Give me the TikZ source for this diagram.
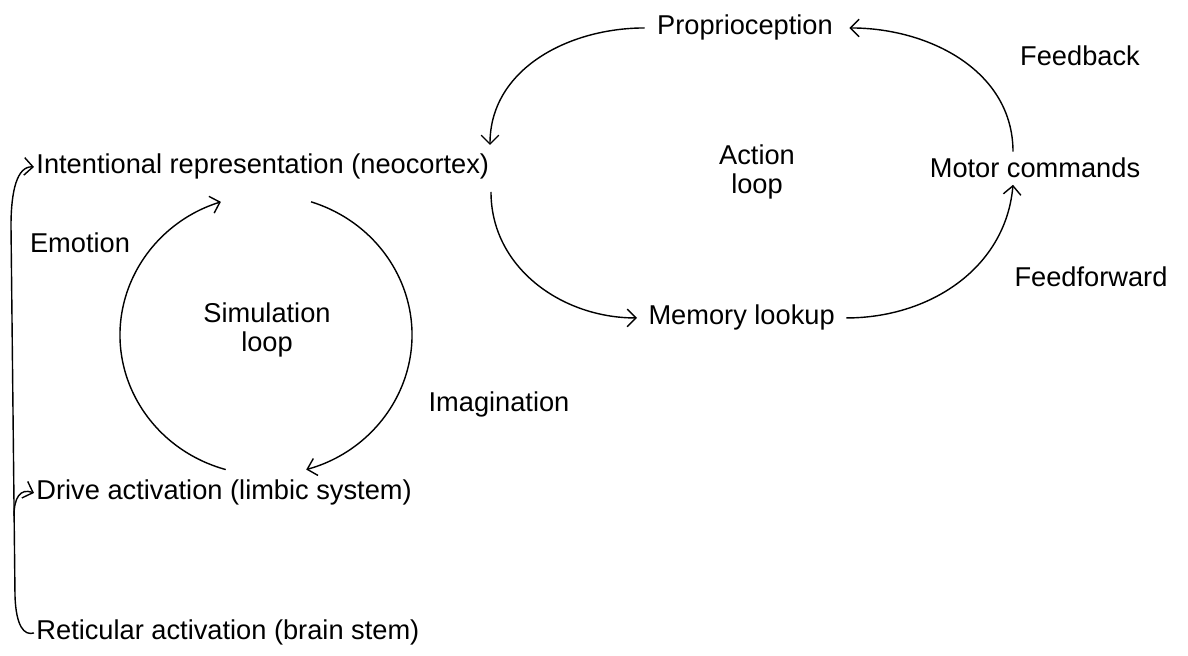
\documentclass[tikz,border=0pt]{standalone}
\usepackage{fontspec}
\setmainfont{Liberation Sans}
\usetikzlibrary{arrows.meta}
\begin{document}
\begin{tikzpicture}[x=0.02cm,y=0.02cm,line width=0.8pt,>={Straight Barb[length=5pt,width=10pt]},
  every node/.style={font=\fontsize{15.5}{16}\selectfont},
  lbl/.style={anchor=base west,inner sep=1pt}]
\useasboundingbox (0,0) rectangle (1188,656);
% left column
\node[lbl] (int) at (34,482) {Intentional representation (neocortex)};
\node[lbl] (drive) at (34,156) {Drive activation (limbic system)};
\node[lbl] (ret) at (34,16) {Reticular activation (brain stem)};
\node[anchor=base] (emo) at (80,403) {Emotion};
\node[anchor=base] (imag) at (499,244) {Imagination};
\node[align=center] (sim) at (267,326) {Simulation\\loop};
% action loop
\node[anchor=base] (prop) at (745,621) {Proprioception};
\node[anchor=base] (fb) at (1080,590) {Feedback};
\node[anchor=base] (motor) at (1035,478) {Motor commands};
\node[anchor=base] (ff) at (1091,369) {Feedforward};
\node[anchor=base west] (mem) at (642,331) {Memory lookup};
\node[align=center] (act) at (757,484) {Action\\loop};
\coordinate (intin) at (490,511);
\coordinate (intout) at (491,464);
\coordinate (simc) at (266,321);
\coordinate (fork) at (14,140);
% arousal
\draw[->](ret.west) .. controls (24,20) and (16,30) .. (15,60) -- (11,430) .. controls (11,465) and (17,490) .. (int.west);
\draw[->](fork) .. controls (14,158) and (20,168) .. (drive.west);
% simulation
\draw[->](simc) ++(254:146 and 140) arc[start angle=254,end angle=108,x radius=146,y radius=140];
\draw[->](simc) ++(72:146 and 140) arc[start angle=72,end angle=-74,x radius=146,y radius=140];
% action
\draw[->](intout) to[out=-90,in=180] ([xshift=-0.1cm]mem.west);
\draw[->]([xshift=0.1cm]mem.east) to[out=0,in=-95] ([xshift=-0.44cm]motor.south);
\draw[->]([xshift=-0.44cm]motor.north) to[out=90,in=0] ([xshift=0.2cm]prop.east);
\draw[->]([xshift=-0.12cm]prop.west) to[out=180,in=90] (intin);
\end{tikzpicture}
\end{document}
